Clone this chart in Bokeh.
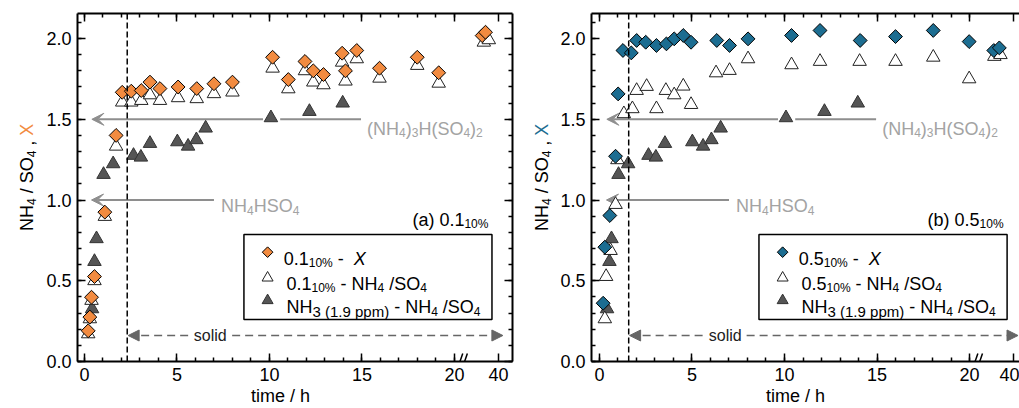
import numpy as np
from bokeh.plotting import figure
from bokeh.models import (FixedTicker, LinearAxis, Label, Span, Arrow, VeeHead, NormalHead,
                          BoxAnnotation, PrintfTickFormatter, Range1d, Title)
from bokeh.layouts import row
from bokeh.embed import file_html
from bokeh.resources import INLINE

# ---------------- data (time in h, molar ratios) ----------------
# panel (a): 0.1_10%  -> X (diamonds) and NH4/SO4 (open triangles)
a_x_t = [0.20, 0.29, 0.38, 0.54, 1.10, 1.71, 2.04, 2.53, 3.07, 3.54, 4.08, 5.06, 6.07, 7.00, 8.00,
         10.17, 11.02, 11.92, 12.37, 12.92, 13.93, 14.11, 14.72, 15.95, 17.99, 19.15, 39.12, 39.30]
a_x_v = [0.19, 0.275, 0.398, 0.526, 0.925, 1.40, 1.667, 1.674, 1.678, 1.73, 1.69, 1.70, 1.69, 1.72, 1.73,
         1.884, 1.746, 1.858, 1.80, 1.777, 1.909, 1.80, 1.926, 1.816, 1.884, 1.788, 2.018, 2.039]
a_r_t = [0.20, 0.29, 0.38, 0.54, 1.10, 1.71, 2.04, 2.53, 3.07, 3.54, 4.08, 5.06, 6.07, 7.00, 8.00,
         10.17, 11.02, 11.92, 12.37, 12.92, 13.93, 14.11, 14.72, 15.95, 17.99, 19.15, 39.21, 39.48]
a_r_v = [0.171, 0.264, 0.378, 0.50, 0.898, 1.333, 1.606, 1.606, 1.616, 1.651, 1.616, 1.633, 1.627, 1.658, 1.668,
         1.816, 1.688, 1.80, 1.73, 1.713, 1.853, 1.736, 1.874, 1.754, 1.833, 1.723, 1.977, 1.992]

# panel (b): 0.5_10%
b_x_t = [0.20, 0.29, 0.56, 0.87, 1.01, 1.27, 1.72, 2.01, 2.50, 3.08, 3.62, 4.04, 4.53, 4.95, 6.34, 7.03, 8.03,
         10.38, 11.92, 14.09, 16.00, 18.04, 19.98, 38.93, 39.23]
b_x_v = [0.361, 0.708, 0.904, 1.271, 1.657, 1.926, 1.911, 1.988, 1.977, 1.957, 1.967, 1.998, 2.019, 1.977, 1.988,
         1.957, 1.998, 2.019, 2.05, 1.988, 2.012, 2.05, 1.981, 1.926, 1.942]
b_r_t = [0.29, 0.36, 0.60, 0.87, 0.97, 1.32, 1.78, 2.01, 2.55, 3.08, 3.59, 4.04, 4.53, 4.95, 6.30, 7.03, 8.03,
         10.38, 11.92, 14.06, 16.00, 18.04, 19.98, 38.96, 39.29]
b_r_v = [0.264, 0.526, 0.687, 0.972, 1.249, 1.534, 1.565, 1.678, 1.703, 1.565, 1.678, 1.651, 1.705, 1.591, 1.787,
         1.802, 1.874, 1.837, 1.858, 1.858, 1.858, 1.884, 1.75, 1.889, 1.90]

# NH3 (1.9 ppm) reference: NH4/SO4 (filled triangles), same in both panels
nh3_t = [0.41, 0.54, 0.65, 1.03, 1.55, 2.65, 3.05, 3.54, 5.02, 5.60, 6.05, 6.55, 10.08, 12.16, 13.96]
nh3_v = [0.326, 0.619, 0.76, 1.158, 1.224, 1.276, 1.265, 1.35, 1.36, 1.333, 1.373, 1.445, 1.509, 1.548, 1.60]

# deliquescence / solid onset times (h)
solid_t = {"a": 2.31, "b": 1.58}

x_major = [0, 5, 10, 15, 20, 40]
x_minor = list(range(0, 21))
y_major = [0.0, 0.5, 1.0, 1.5, 2.0]
y_minor = [round(0.1 * i, 1) for i in range(22)]

# ---------------- styling ----------------
FONT = "Liberation Sans"
ORANGE = "#F28B40"
BLUE = "#1C6D91"
DARK = "#555555"
GRAY_TXT = "#A3A3A3"
GRAY_LN = "#8E8E8E"
X40 = 22.38                 # axis position of the 40 h tick (broken axis)
SHIFT = 40 - X40
XBREAK = 20.5


def tx(ts):
    return [t - SHIFT if t > 30 else t for t in ts]


W = {' ': 278, '(': 333, ')': 333, ',': 278, '-': 333, '.': 278, '/': 278, '%': 889, 'H': 722,
     'N': 722, 'O': 778, 'S': 667, 'X': 667, 'a': 556, 'b': 556, 'p': 556, 'm': 833, 'o': 556,
     'l': 222, 'i': 222, 'd': 556, 's': 500, 't': 278, 'e': 556, 'h': 556}
SIZES = {"n": (18, 0, "normal"), "i": (18, 0, "italic"), "s": (12, -4, "normal"),
         "m": (15, -4, "normal")}


def tw(s, size):
    return sum(W.get(c, 556) for c in s) * size / 1000.0


def rich(p, x, y, pieces, align="left", angle=0.0, color="black"):
    total = sum(tw(pc[0], SIZES[pc[1]][0]) for pc in pieces)
    pos = -total if align == "right" else 0.0
    for pc in pieces:
        txt, kind = pc[0], pc[1]
        col = pc[2] if len(pc) > 2 else color
        size, dy, style = SIZES[kind]
        lead = len(txt) - len(txt.lstrip(" "))
        pos += tw(" " * lead, size)
        core = txt.strip(" ")
        if core:
            if angle == 0:
                xo, yo = pos, dy
            else:
                xo, yo = -dy, pos
            p.add_layout(Label(x=x, y=y, x_offset=xo, y_offset=yo, text=core, angle=angle,
                               text_font=FONT, text_font_size=f"{size}px", text_font_style=style,
                               text_color=col, text_baseline="alphabetic", text_align="left"))
        pos += tw(core, size) + tw(" " * (len(txt) - lead - len(core)), size)


def clean(f):
    f.outline_line_color = None
    f.background_fill_color = "white"
    f.border_fill_color = "white"
    f.xgrid.grid_line_color = None
    f.ygrid.grid_line_color = None
    f.xgrid.visible = False
    f.ygrid.visible = False


def blank_fig(width, height, xr, yr):
    f = figure(width=width, height=height, x_range=Range1d(*xr), y_range=Range1d(*yr),
               output_backend="svg", toolbar_location=None, min_border=0, title=None,
               x_axis_location=None, y_axis_location=None)
    clean(f)
    return f


def make_fig(xr, width, bl, br, right_axis, title_offset):
    p = figure(width=width, height=408, x_range=Range1d(*xr), y_range=Range1d(0, 2.155),
               output_backend="svg", toolbar_location=None, title=None,
               min_border_left=bl, min_border_right=br, min_border_top=13, min_border_bottom=47,
               x_axis_location=None, y_axis_location=None)
    clean(p)
    xt_major = [float(v) if v < 30 else X40 for v in x_major]
    xt = FixedTicker(ticks=xt_major, minor_ticks=x_minor)
    yt = FixedTicker(ticks=y_major, minor_ticks=y_minor)
    overrides = {tv: str(v) for tv, v in zip(xt_major, x_major)}
    locs = [("below", xt, True), ("above", xt, False), ("left", yt, True)]
    if right_axis:
        locs.append(("right", yt, False))
    for loc, tk, show in locs:
        ax = LinearAxis(ticker=tk)
        ax.axis_line_width = 2
        ax.axis_line_color = "black"
        ax.major_tick_in = 8
        ax.major_tick_out = 0
        ax.minor_tick_in = 4
        ax.minor_tick_out = 0
        ax.major_tick_line_width = 1.5
        ax.minor_tick_line_width = 1.5
        ax.major_tick_line_color = "black"
        ax.minor_tick_line_color = "black"
        if show:
            ax.major_label_text_font = FONT
            ax.major_label_text_font_size = "18px"
            ax.major_label_text_color = "black"
            ax.major_label_standoff = 6
            if loc == "below":
                ax.major_label_overrides = overrides
            else:
                ax.formatter = PrintfTickFormatter(format="%.1f")
        else:
            ax.major_label_text_font_size = "0px"
            ax.major_label_standoff = 0
            ax.major_label_text_alpha = 0
        p.add_layout(ax, loc)
    # x-axis title as a plot title placed below the axis (not clipped by the frame)
    p.add_layout(Title(text="time / h", align="left", offset=title_offset, standoff=0,
                       text_font=FONT, text_font_size="18px", text_font_style="normal",
                       text_color="black"), "below")
    return p


def panel(p, xt_, xv, rt, rv, color, tag, tsolid, legend_label):
    # reference lines / arrows (under the markers)
    p.add_layout(Span(location=tsolid, dimension="height", line_color="black",
                      line_dash="6 3", line_width=1.5))
    p.add_layout(Arrow(x_start=9.65, y_start=1.5, x_end=0.40, y_end=1.5,
                       end=VeeHead(size=12, fill_color=GRAY_LN, line_color=GRAY_LN),
                       line_color=GRAY_LN, line_width=2, level="underlay"))
    p.add_layout(Arrow(x_start=10.58, y_start=1.5, x_end=14.95, y_end=1.5, end=None,
                       line_color=GRAY_LN, line_width=2, level="underlay"))
    p.add_layout(Arrow(x_start=7.0, y_start=1.0, x_end=0.38, y_end=1.0,
                       end=VeeHead(size=12, fill_color=GRAY_LN, line_color=GRAY_LN),
                       line_color=GRAY_LN, line_width=2, level="underlay"))
    rich(p, 15.28, 1.441, [("(NH", "n"), ("4", "s"), (")", "n"), ("3", "s"), ("H(SO", "n"),
                           ("4", "s"), (")", "n"), ("2", "s")], color=GRAY_TXT)
    rich(p, 7.38, 0.96, [("NH", "n"), ("4", "s"), ("HSO", "n"), ("4", "s")], color=GRAY_TXT)

    # solid arrow
    p.add_layout(Arrow(x_start=tsolid + 0.05, y_start=0.161, x_end=22.62, y_end=0.161,
                       start=NormalHead(size=11, fill_color="#666666", line_color="#666666"),
                       end=NormalHead(size=11, fill_color="#666666", line_color="#666666"),
                       line_color="#666666", line_dash="8 5", line_width=1.5))
    p.add_layout(Label(x=6.8, y=0.161, text="solid", text_align="center", text_baseline="middle",
                       text_font=FONT, text_font_size="16px", text_color="#222222",
                       background_fill_color="white", padding=4))

    # legend box
    p.add_layout(BoxAnnotation(left=8.62, right=22.03, bottom=0.26, top=0.786,
                               fill_color="white", fill_alpha=1.0, line_color="black",
                               line_alpha=1.0, line_width=1.5, level="underlay"))

    # data
    p.scatter(tx(nh3_t), nh3_v, marker="triangle", size=13.5, fill_color=DARK,
              line_color="#333333", line_width=1)
    p.scatter(tx(rt), rv, marker="triangle", size=13.5, fill_color="white",
              line_color="#222222", line_width=1)
    p.scatter(tx(xt_), xv, marker="square", angle=np.pi / 4, size=9.8, fill_color=color,
              line_color="black", line_width=1)

    # legend markers + texts
    p.scatter([9.9], [0.677], marker="square", angle=np.pi / 4, size=7.5, fill_color=color,
              line_color="black", line_width=1)
    p.scatter([9.9], [0.518], marker="triangle", size=11, fill_color="white",
              line_color="#222222", line_width=1)
    p.scatter([9.9], [0.378], marker="triangle", size=11, fill_color=DARK,
              line_color="#333333", line_width=1)
    rich(p, 10.77, 0.636, [(legend_label, "n"), ("10%", "s"), (" -  ", "n"), ("X", "i")])
    rich(p, 10.92, 0.481, [(legend_label, "n"), ("10%", "s"), (" - NH", "n"), ("4", "s"),
                           (" /SO", "n"), ("4", "s")])
    rich(p, 10.92, 0.336, [("NH", "n"), ("3 (1.9 ppm)", "m"), (" - NH", "n"), ("4", "s"),
                           (" /SO", "n"), ("4", "s")])

    # panel tag
    rich(p, 21.84, 0.879, [(tag + " " + legend_label, "n"), ("10%", "s")], align="right")

    # axis break mark (part inside the frame)
    p.segment(x0=[XBREAK - 0.2, XBREAK + 0.05], y0=[0.0, 0.0],
              x1=[XBREAK - 0.05, XBREAK + 0.2], y1=[0.05, 0.05],
              line_color="black", line_width=1.5)


# y-axis titles (separate narrow canvases, pixel coordinates)
ya = blank_fig(40, 408, (0, 40), (408, 0))
rich(ya, 26.7, 255, [("NH", "n"), ("4", "s"), (" / SO", "n"), ("4", "s"), (" , ", "n"),
                     ("X", "n", ORANGE)], angle=np.pi / 2)
yb = blank_fig(36, 408, (520, 556), (408, 0))
rich(yb, 541.7, 255, [("NH", "n"), ("4", "s"), (" / SO", "n"), ("4", "s"), (" , ", "n"),
                      ("X", "n", BLUE)], angle=np.pi / 2)

p1 = make_fig((-0.378, 23.14), 480, 37, 8, True, 173.5)
panel(p1, a_x_t, a_x_v, a_r_t, a_r_v, ORANGE, "(a)", solid_t["a"], "0.1")
p2 = make_fig((-0.43, 22.70), 463, 35, 0, False, 174.5)
panel(p2, b_x_t, b_x_v, b_r_t, b_r_v, BLUE, "(b)", solid_t["b"], "0.5")

layout = row(ya, p1, yb, p2)
open("out.html", "w").write(file_html(layout, INLINE))
